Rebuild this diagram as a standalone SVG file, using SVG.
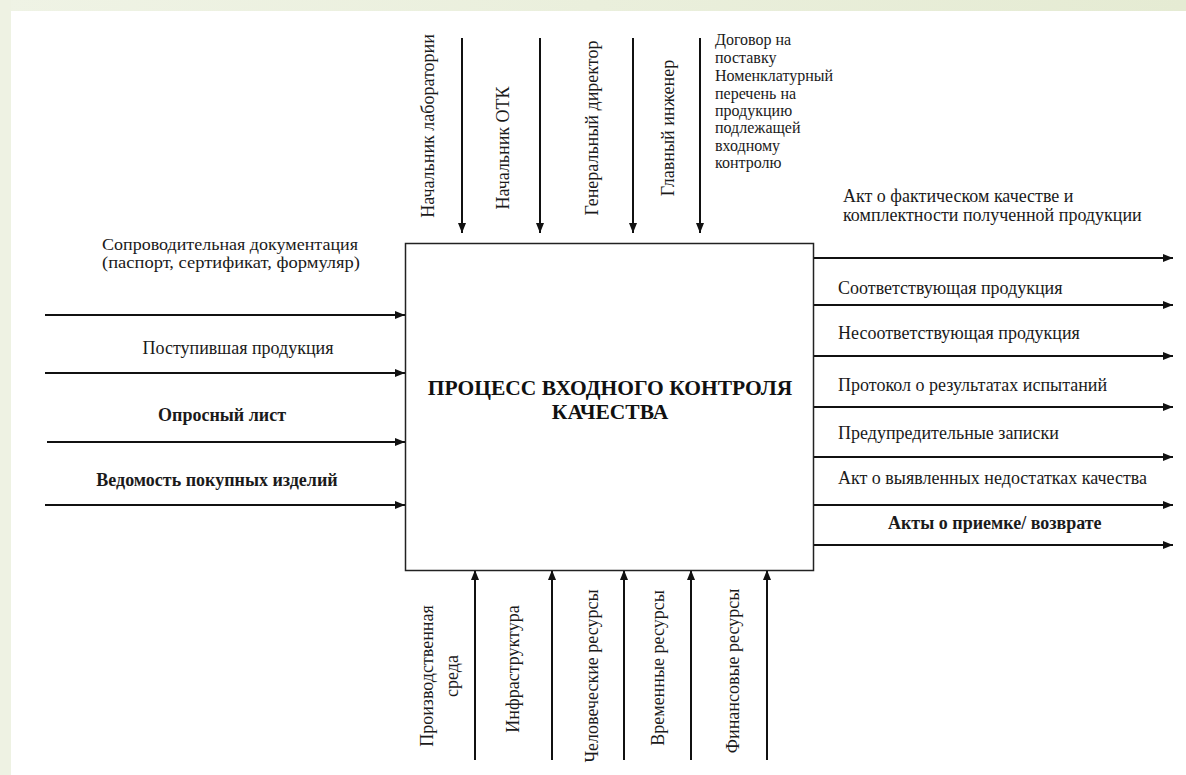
<svg xmlns="http://www.w3.org/2000/svg" width="1186" height="775" viewBox="0 0 1186 775">
<defs>
<linearGradient id="bgTop" x1="0" y1="0" x2="1" y2="0">
<stop offset="0" stop-color="#eff3e5"/>
<stop offset="1" stop-color="#e5ebd3"/>
</linearGradient>
<marker id="ah" viewBox="0 0 10 8" refX="10" refY="4" markerWidth="10" markerHeight="8" markerUnits="userSpaceOnUse" orient="auto">
<path d="M0,0 L10,4 L0,8 Z" fill="#111"/>
</marker>
<style>
.t{font-family:"Liberation Serif","Times New Roman",serif;font-size:18px;fill:#1a1a1a}
.s{font-size:16px}
.b{font-weight:bold}
.ttl{font-family:"Liberation Serif","Times New Roman",serif;font-size:21.5px;font-weight:bold;fill:#111}
.c{stroke:#111;stroke-width:2;fill:none;marker-end:url(#ah)}
</style>
</defs>
<rect x="0" y="0" width="1186" height="775" fill="#ffffff"/>
<rect x="0" y="0" width="1186" height="11" fill="url(#bgTop)"/>
<rect x="0" y="0" width="11" height="775" fill="#eef2e3"/>

<g id="connectors">
<line class="c" x1="462" y1="38" x2="462" y2="233"/>
<line class="c" x1="540" y1="38" x2="540" y2="233"/>
<line class="c" x1="633" y1="38" x2="633" y2="233"/>
<line class="c" x1="700" y1="38" x2="700" y2="233"/>
<line class="c" x1="45" y1="315" x2="405" y2="315"/>
<line class="c" x1="45" y1="373" x2="405" y2="373"/>
<line class="c" x1="47" y1="442" x2="405" y2="442"/>
<line class="c" x1="45" y1="505" x2="405" y2="505"/>
<line class="c" x1="813" y1="258" x2="1173" y2="258"/>
<line class="c" x1="813" y1="305" x2="1173" y2="305"/>
<line class="c" x1="813" y1="356" x2="1173" y2="356"/>
<line class="c" x1="813" y1="407" x2="1173" y2="407"/>
<line class="c" x1="813" y1="457" x2="1173" y2="457"/>
<line class="c" x1="813" y1="505" x2="1173" y2="505"/>
<line class="c" x1="813" y1="545" x2="1173" y2="545"/>
<line class="c" x1="475" y1="760" x2="475" y2="570"/>
<line class="c" x1="552" y1="760" x2="552" y2="570"/>
<line class="c" x1="624" y1="760" x2="624" y2="570"/>
<line class="c" x1="691" y1="760" x2="691" y2="570"/>
<line class="c" x1="767" y1="760" x2="767" y2="570"/>
</g>

<g id="process">
<rect x="405.5" y="243.5" width="408" height="327" fill="#fff" stroke="#222" stroke-width="1.5"/>
<text class="ttl" x="610" y="395" text-anchor="middle">ПРОЦЕСС ВХОДНОГО КОНТРОЛЯ</text>
<text class="ttl" x="610" y="419" text-anchor="middle">КАЧЕСТВА</text>
</g>

<g id="controls">
<text class="t" transform="translate(434,126) rotate(-90)" text-anchor="middle">Начальник лаборатории</text>
<text class="t" transform="translate(509,148) rotate(-90)" text-anchor="middle">Начальник ОТК</text>
<text class="t" transform="translate(598,128) rotate(-90)" text-anchor="middle">Генеральный директор</text>
<text class="t" transform="translate(674,128) rotate(-90)" text-anchor="middle">Главный инженер</text>
<text class="t s" x="715" y="45">Договор на</text>
<text class="t s" x="715" y="63">поставку</text>
<text class="t s" x="715" y="81">Номенклатурный</text>
<text class="t s" x="715" y="99">перечень на</text>
<text class="t s" x="715" y="116">продукцию</text>
<text class="t s" x="715" y="133">подлежащей</text>
<text class="t s" x="715" y="151">входному</text>
<text class="t s" x="715" y="168">контролю</text>
</g>

<g id="inputs">
<text class="t s" x="230" y="250" text-anchor="middle" textLength="256" lengthAdjust="spacingAndGlyphs">Сопроводительная документация</text>
<text class="t s" x="231" y="268" text-anchor="middle" textLength="258" lengthAdjust="spacingAndGlyphs">(паспорт, сертификат, формуляр)</text>
<text class="t" x="238" y="354" text-anchor="middle">Поступившая продукция</text>
<text class="t b" x="222" y="421" text-anchor="middle">Опросный лист</text>
<text class="t b" x="217" y="486" text-anchor="middle">Ведомость покупных изделий</text>
</g>

<g id="outputs">
<text class="t" x="843" y="202">Акт о фактическом качестве и</text>
<text class="t" x="843" y="221">комплектности полученной продукции</text>
<text class="t" x="838" y="294">Соответствующая продукция</text>
<text class="t" x="838" y="339">Несоответствующая продукция</text>
<text class="t" x="838" y="391">Протокол о результатах испытаний</text>
<text class="t" x="838" y="439">Предупредительные записки</text>
<text class="t" x="838" y="484">Акт о выявленных недостатках качества</text>
<text class="t b" x="888" y="529">Акты о приемке/ возврате</text>
</g>

<g id="mechanisms">
<text class="t" transform="translate(433,676) rotate(-90)" text-anchor="middle">Производственная</text>
<text class="t" transform="translate(458,676) rotate(-90)" text-anchor="middle">среда</text>
<text class="t" transform="translate(519,669) rotate(-90)" text-anchor="middle">Инфраструктура</text>
<text class="t" transform="translate(598,676) rotate(-90)" text-anchor="middle">Человеческие ресурсы</text>
<text class="t" transform="translate(664,668) rotate(-90)" text-anchor="middle">Временные ресурсы</text>
<text class="t" transform="translate(739,671) rotate(-90)" text-anchor="middle">Финансовые ресурсы</text>
</g>
</svg>
